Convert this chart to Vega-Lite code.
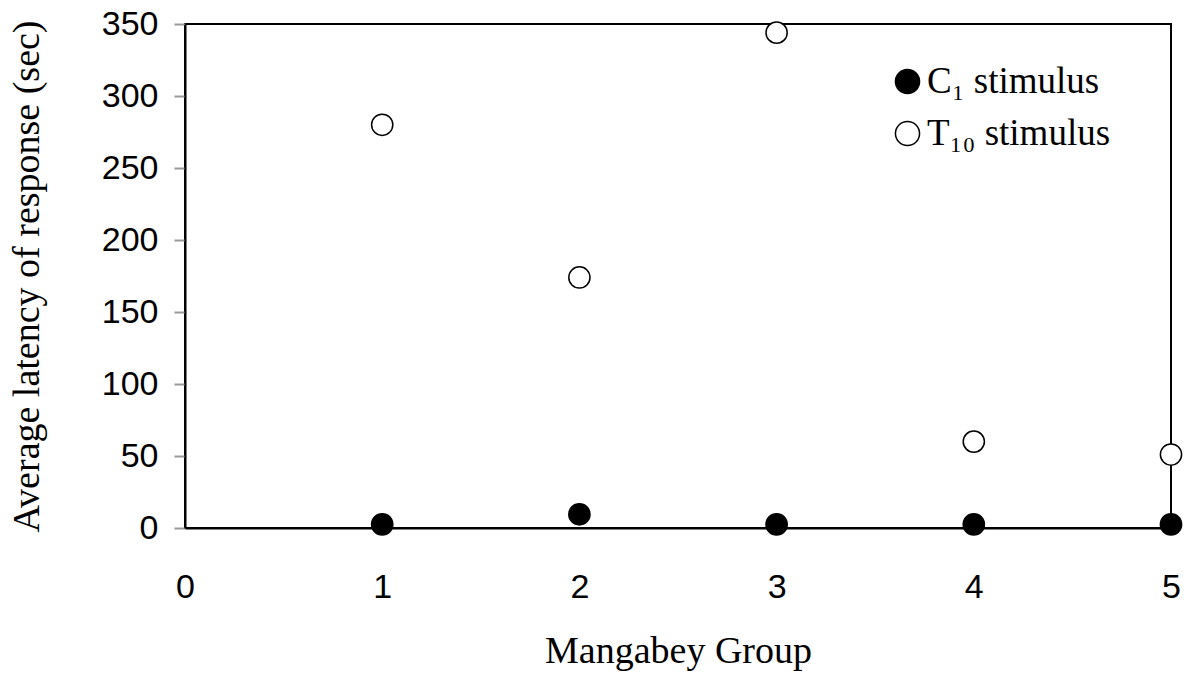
{
  "$schema": "https://vega.github.io/schema/vega-lite/v6.json",
  "width": 986,
  "height": 504,
  "autosize": {"type": "none"},
  "padding": {"left": 185, "top": 24, "right": 21, "bottom": 145},
  "background": "white",
  "config": {
    "view": {"stroke": "black", "strokeWidth": 2},
    "axis": {"grid": false, "domainColor": "black", "domainWidth": 2, "labelColor": "black", "titleColor": "black", "titleFontWeight": "normal"}
  },
  "data": {
    "values": [
      {"group": 1, "latency": 2.5, "stimulus": "C₁ stimulus"},
      {"group": 2, "latency": 9.5, "stimulus": "C₁ stimulus"},
      {"group": 3, "latency": 2.5, "stimulus": "C₁ stimulus"},
      {"group": 4, "latency": 2.5, "stimulus": "C₁ stimulus"},
      {"group": 5, "latency": 2.5, "stimulus": "C₁ stimulus"},
      {"group": 1, "latency": 280, "stimulus": "T₁₀ stimulus"},
      {"group": 2, "latency": 174, "stimulus": "T₁₀ stimulus"},
      {"group": 3, "latency": 344, "stimulus": "T₁₀ stimulus"},
      {"group": 4, "latency": 60, "stimulus": "T₁₀ stimulus"},
      {"group": 5, "latency": 51, "stimulus": "T₁₀ stimulus"}
    ]
  },
  "mark": {"type": "point", "shape": "circle", "filled": true, "size": 450, "stroke": "black", "strokeWidth": 1.5, "opacity": 1},
  "encoding": {
    "x": {
      "field": "group", "type": "quantitative",
      "scale": {"domain": [0, 5], "nice": false, "zero": true},
      "axis": {"values": [0, 1, 2, 3, 4, 5], "ticks": false, "tickSize": 0, "labelPadding": 42, "labelFont": "Liberation Sans", "labelFontSize": 34, "title": "Mangabey Group", "titleFont": "Liberation Serif", "titleFontSize": 38, "titlePadding": 28, "labelFlush": false}
    },
    "y": {
      "field": "latency", "type": "quantitative",
      "scale": {"domain": [0, 350], "nice": false},
      "axis": {"values": [0, 50, 100, 150, 200, 250, 300, 350], "tickColor": "#999999", "tickSize": 11, "tickWidth": 2, "labelPadding": 16, "labelFont": "Liberation Sans", "labelFontSize": 34, "title": "Average latency of response (sec)", "titleFont": "Liberation Serif", "titleFontSize": 38, "titlePadding": 55, "labelFlush": false}
    },
    "fill": {
      "field": "stimulus", "type": "nominal",
      "scale": {"domain": ["C₁ stimulus", "T₁₀ stimulus"], "range": ["black", "white"]},
      "legend": {
        "title": null, "orient": "none", "legendX": 704, "legendY": 39, "padding": 0,
        "symbolType": "circle", "symbolSize": 580, "symbolStrokeColor": "black", "symbolStrokeWidth": 1.5,
        "labelFont": "Liberation Serif", "labelFontSize": 37, "labelColor": "black", "labelOffset": 1, "labelLimit": 400, "rowPadding": 14
      }
    }
  }
}
